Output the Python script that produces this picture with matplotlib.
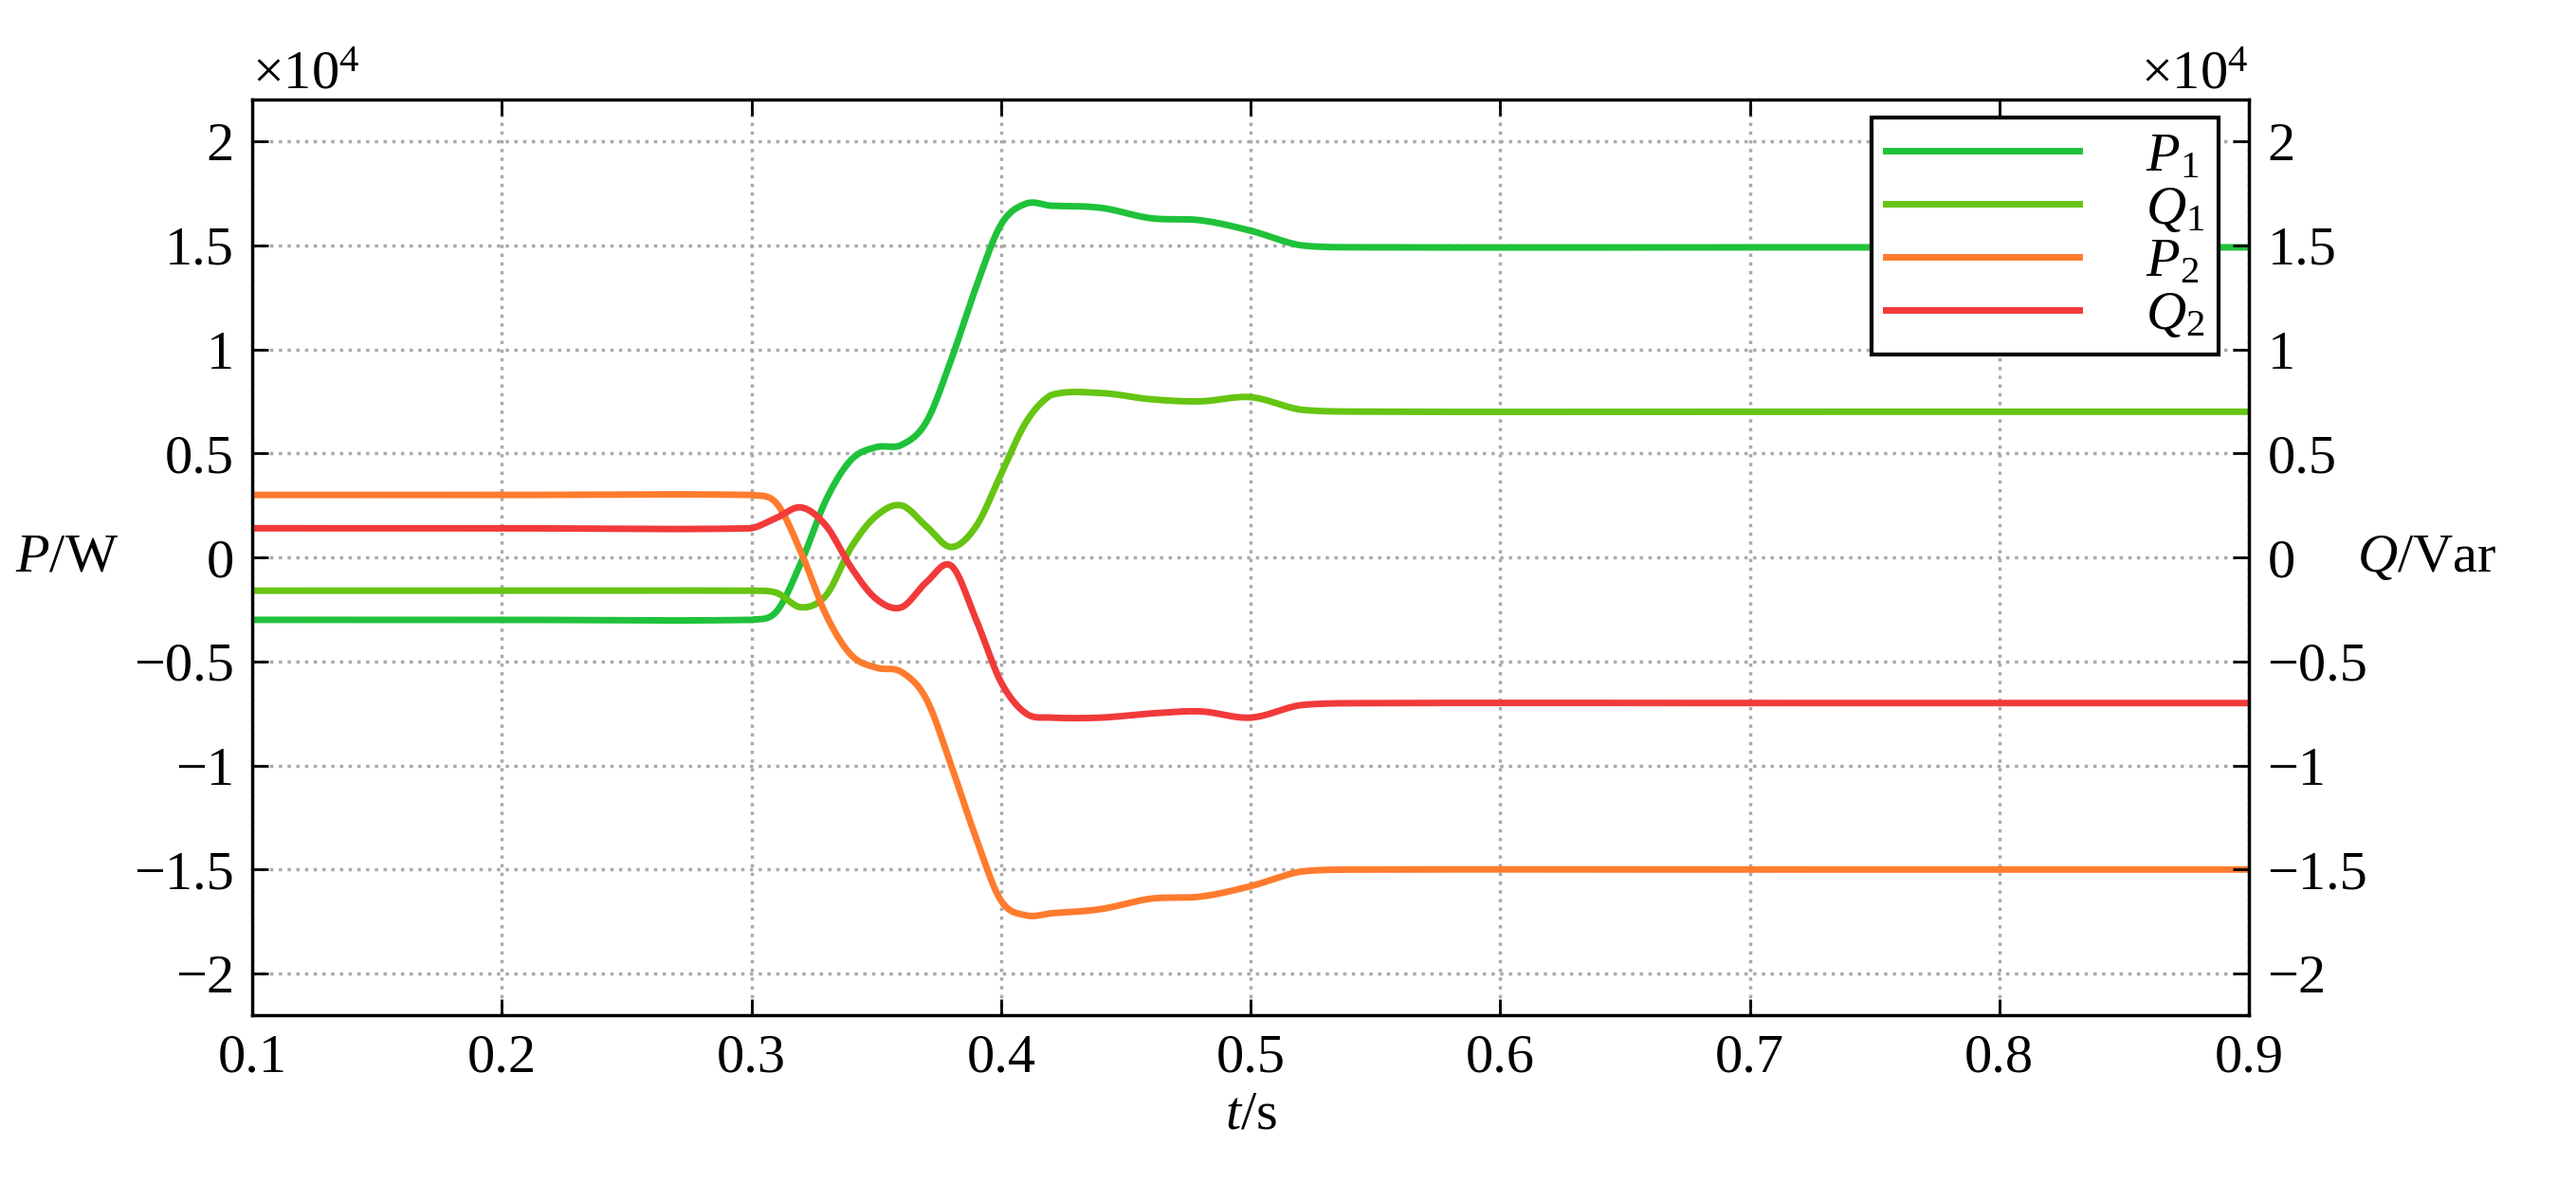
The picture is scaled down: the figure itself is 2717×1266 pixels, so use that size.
import numpy as np
import matplotlib
matplotlib.use("Agg")
import matplotlib.pyplot as plt

plt.rcParams['font.family'] = ['Liberation Serif', 'DejaVu Serif']
plt.rcParams['mathtext.fontset'] = 'custom'
plt.rcParams['mathtext.it'] = 'Liberation Serif:italic'
plt.rcParams['mathtext.rm'] = 'Liberation Serif'

t_key = [0.1, 0.2, 0.30, 0.31, 0.32, 0.33, 0.34, 0.35, 0.36, 0.37, 0.38, 0.39, 0.40, 0.41, 0.42, 0.44, 0.46, 0.48, 0.50, 0.52, 0.55, 0.7, 0.9]
P1 = [-0.30, -0.30, -0.30, -0.26, -0.02, 0.28, 0.47, 0.53, 0.54, 0.65, 0.95, 1.30, 1.60, 1.70, 1.69, 1.68, 1.63, 1.62, 1.57, 1.50, 1.49, 1.49, 1.49]
Q1 = [-0.16, -0.16, -0.16, -0.17, -0.24, -0.18, 0.05, 0.20, 0.25, 0.15, 0.05, 0.15, 0.40, 0.65, 0.78, 0.79, 0.76, 0.75, 0.77, 0.71, 0.70, 0.70, 0.70]
P2 = [0.30, 0.30, 0.30, 0.26, 0.02, -0.28, -0.47, -0.53, -0.55, -0.68, -1.00, -1.35, -1.65, -1.72, -1.71, -1.69, -1.64, -1.63, -1.58, -1.51, -1.50, -1.50, -1.50]
Q2 = [0.14, 0.14, 0.14, 0.19, 0.24, 0.15, -0.05, -0.20, -0.24, -0.12, -0.04, -0.30, -0.60, -0.75, -0.77, -0.77, -0.75, -0.74, -0.77, -0.71, -0.70, -0.70, -0.70]
labels = [r'$P$$_1$', r'$Q$$_1$', r'$P$$_2$', r'$Q$$_2$']
colors = ['#1fc23a', '#66c412', '#ff7b2e', '#f23a3a']

def smooth(x, y, n=20):
    x = np.array(x); y = np.array(y)
    xs, ys = [], []
    for i in range(len(x) - 1):
        y0 = y[i - 1] if i > 0 else y[i]
        y3 = y[i + 2] if i + 2 < len(y) else y[i + 1]
        y1, y2 = y[i], y[i + 1]
        s = np.linspace(0, 1, n, endpoint=False)
        ys.append(0.5 * ((2 * y1) + (-y0 + y2) * s + (2 * y0 - 5 * y1 + 4 * y2 - y3) * s**2 + (-y0 + 3 * y1 - 3 * y2 + y3) * s**3))
        xs.append(x[i] + (x[i + 1] - x[i]) * s)
    return np.concatenate(xs + [[x[-1]]]), np.concatenate(ys + [[y[-1]]])

FS = 42
fig = plt.figure(figsize=(27.17, 12.66), dpi=100)
ax = fig.add_axes([0.098, 0.154, 0.775, 0.763])
for y, lab, c in zip([P1, Q1, P2, Q2], labels, colors):
    xs, ys = smooth(t_key, y)
    ax.plot(xs, ys, color=c, lw=5, label=lab)
ax.set_xlim(0.1, 0.9)
ax.set_ylim(-2.2, 2.2)
ticks = [-2, -1.5, -1, -0.5, 0, 0.5, 1, 1.5, 2]
ticklabels = ['\u22122', '\u22121.5', '\u22121', '\u22120.5', '0', '0.5', '1', '1.5', '2']
ax.set_yticks(ticks); ax.set_yticklabels(ticklabels)
ax.set_xticks(np.arange(0.1, 0.91, 0.1))
ax.set_xticklabels([f'{v:.1f}' for v in np.arange(0.1, 0.91, 0.1)])
ax.grid(True, ls=':', color='#aaaaaa', lw=2.5)
ax.tick_params(direction='in', labelsize=FS, length=12, width=2, top=True, pad=14)
for s in ax.spines.values():
    s.set_linewidth(2.5)
ax2 = ax.twinx()
ax2.set_ylim(-2.2, 2.2)
ax2.set_yticks(ticks); ax2.set_yticklabels(ticklabels)
ax2.tick_params(direction='in', labelsize=FS, length=12, width=2, pad=14)
ax.text(0.0, 1.0, r'$\times$10$^4$', transform=ax.transAxes, fontsize=FS, va='bottom', ha='left')
ax.text(1.0, 1.0, r'$\times$10$^4$', transform=ax.transAxes, fontsize=FS, va='bottom', ha='right')
ax.set_xlabel(r'$t$/s', fontsize=FS, labelpad=6)
fig.text(0.006, 0.535, r'$P$/W', fontsize=FS, ha='left', va='center')
fig.text(0.915, 0.535, r'$Q$/Var', fontsize=FS, ha='left', va='center')
leg = ax.legend(loc='upper right', bbox_to_anchor=(0.985, 0.98), fontsize=FS, handlelength=3.5,
                handletextpad=1.2, frameon=True, fancybox=False, edgecolor='black', framealpha=1,
                borderpad=0.25, labelspacing=0.05, borderaxespad=0)
leg.get_frame().set_linewidth(3)
fig.savefig('out.png', dpi=100)
